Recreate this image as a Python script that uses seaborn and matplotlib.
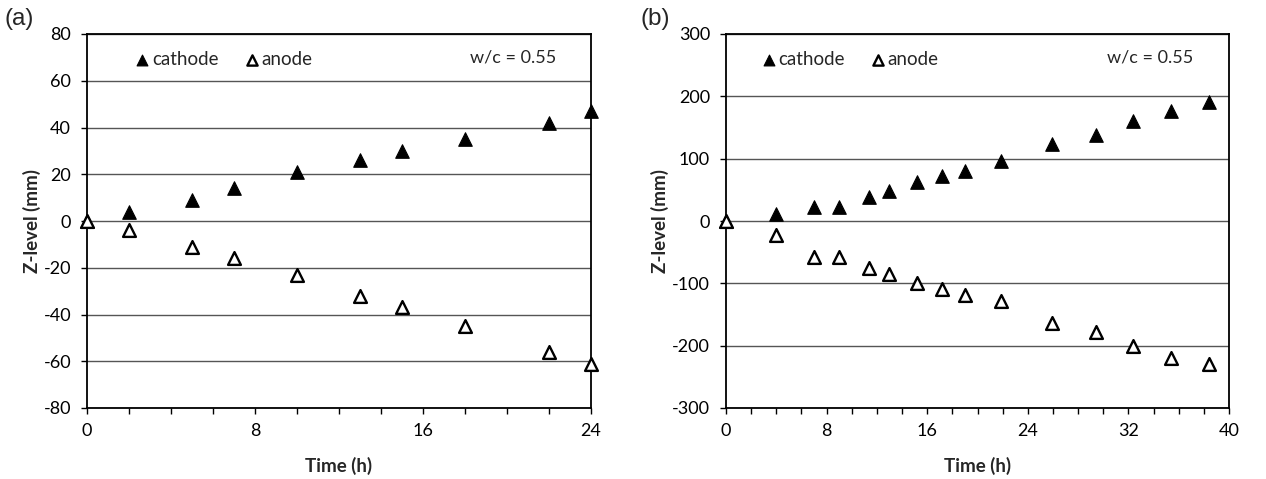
import matplotlib
matplotlib.use("Agg")
import matplotlib.pyplot as plt
from matplotlib.ticker import MultipleLocator
import seaborn as sns
import pandas as pd

# Panel (a) data
time_a = [0, 2, 5, 7, 10, 13, 15, 18, 22, 24]
cathode_a = [0, 4, 9, 14, 21, 26, 30, 35, 42, 47]
anode_a = [0, -4, -11, -16, -23, -32, -37, -45, -56, -61]

# Panel (b) data
time_b = [0, 4, 7, 9, 11.4, 13, 15.2, 17.2, 19, 21.9, 25.9, 29.4, 32.4, 35.4, 38.4]
cathode_b = [0, 12, 23, 23, 39, 48, 62, 72, 81, 97, 123, 138, 161, 176, 191]
anode_b = [0, -23, -57, -57, -76, -85, -99, -109, -119, -129, -163, -178, -200, -219, -229]

sns.set_theme(style="white")
plt.rcParams['font.family'] = ['Lato', 'DejaVu Sans']
plt.rcParams['axes.unicode_minus'] = False

fig = plt.figure(figsize=(12.66, 4.79), dpi=100)
ax_a = fig.add_axes([87/1266, 71/479, 504/1266, 374/479])
ax_b = fig.add_axes([726/1266, 71/479, 503/1266, 374/479])


def draw(ax, t, cat, ano, ylim, ystep, xmax, leg_x, wc_x, label, label_x):
    df = pd.DataFrame({"t": t, "cathode": cat, "anode": ano})
    sns.scatterplot(data=df, x="t", y="cathode", ax=ax, marker="^", s=95,
                    color="black", edgecolor="black", linewidth=0.8,
                    label="cathode", clip_on=False, zorder=3)
    sns.scatterplot(data=df, x="t", y="anode", ax=ax, marker="^", s=85,
                    facecolor="white", edgecolor="black", linewidth=1.7,
                    label="anode", clip_on=False, zorder=4)
    ax.set_xlim(0, xmax)
    ax.set_ylim(*ylim)
    ax.xaxis.set_major_locator(MultipleLocator(8))
    ax.xaxis.set_minor_locator(MultipleLocator(2))
    ax.yaxis.set_major_locator(MultipleLocator(ystep))
    ax.grid(axis="y", color="#555555", linewidth=1.0)
    ax.grid(axis="x", visible=False)
    ax.set_axisbelow(True)
    for sp in ax.spines.values():
        sp.set_color("black")
        sp.set_linewidth(1.3)
    ax.tick_params(axis="both", which="both", direction="out", color="black",
                   length=4.5, width=1.0, labelsize=13, colors="black",
                   bottom=True, left=True)
    ax.tick_params(axis="x", which="both", pad=6)
    ax.tick_params(axis="y", which="both", pad=7)
    ax.set_xlabel("Time (h)", fontsize=13.5, fontweight="bold", labelpad=13)
    ax.set_ylabel("Z-level (mm)", fontsize=13.5, fontweight="bold", labelpad=2)
    ax.legend(loc="upper left", bbox_to_anchor=(leg_x, 0.985), frameon=False,
              ncol=2, handletextpad=0.0, columnspacing=1.3, markerscale=0.8,
              fontsize=13.5, handlelength=1.0, borderaxespad=0.2)
    ax.text(wc_x, 0.936, "w/c = 0.55", transform=ax.transAxes, ha="right",
            va="center", fontsize=13)
    fig.text(label_x, 0.96, label, fontsize=17.5, ha="left", va="center",
             family=["Liberation Sans", "DejaVu Sans"])


draw(ax_a, time_a, cathode_a, anode_a, (-80, 80), 20, 24, 0.069, 0.932, "(a)", 5/1266)
draw(ax_b, time_b, cathode_b, anode_b, (-300, 300), 100, 40, 0.044, 0.928, "(b)", 641/1266)

fig.savefig("out.png", dpi=100)
